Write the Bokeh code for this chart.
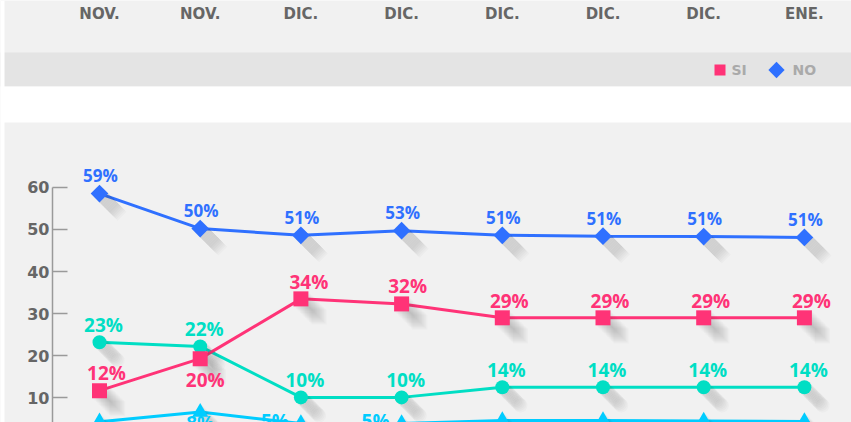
import math
from bokeh.plotting import figure
from bokeh.models import ColumnDataSource, Range1d, LinearAxis, FixedTicker, BoxAnnotation
from bokeh.transform import dodge
from bokeh.core.properties import value
from bokeh.embed import file_html
from bokeh.resources import INLINE

# ---------------- data ----------------
periods = ["AL 19 DE\nNOV.", "AL 26 DE\nNOV.", "AL 3DE\nDIC.", "AL 10 DE\nDIC.",
           "AL 17 DE\nDIC.", "AL 23 DE\nDIC.", "AL 30 DE\nDIC.", "AL 6 DE\nENE."]
si_values = [11.7, 19.3, 33.5, 32.3, 29.0, 29.0, 29.0, 29.0]
si_labels = ["12%", "20%", "34%", "32%", "29%", "29%", "29%", "29%"]
no_values = [58.5, 50.2, 48.6, 49.7, 48.6, 48.4, 48.3, 48.1]
no_labels = ["59%", "50%", "51%", "53%", "51%", "51%", "51%", "51%"]
ns_values = [23.2, 22.2, 10.1, 10.1, 12.5, 12.5, 12.5, 12.5]
ns_labels = ["23%", "22%", "10%", "10%", "14%", "14%", "14%", "14%"]
nr_values = [4.3, 6.6, 3.9, 3.9, 4.6, 4.6, 4.5, 4.4]
nr_labels = ["5%", "8%", "5%", "5%", "5%", "5%", "5%", "5%"]
y_ticks = [10, 20, 30, 40, 50, 60]
legend_names = ["SI", "NO"]

# ---------------- layout constants (pixels) ----------------
W, H = 851, 422
X_FIRST, X_STEP = 99.0, 100.7
Y_ZERO, Y_UNIT = 439.4, 4.21


def sx_to_x(sx):
    return (sx - X_FIRST) / X_STEP


def sy_to_y(sy):
    return (Y_ZERO - sy) / Y_UNIT


BLUE = "#2f70ff"
PINK = "#ff3377"
TEAL = "#00dec4"
CYAN = "#00ccff"
FONT = value("DejaVu Sans")
LFONT = value("Open Sans")

p = figure(width=W, height=H,
           x_range=Range1d(sx_to_x(0), sx_to_x(W)),
           y_range=Range1d(sy_to_y(H), sy_to_y(0)),
           output_backend="svg", toolbar_location=None,
           x_axis_location=None, y_axis_location=None,
           min_border=0, background_fill_color="#f1f1f1",
           border_fill_color="#ffffff", outline_line_color=None)
p.xgrid.visible = False
p.ygrid.visible = False

# header / legend bar / gap / left white strip
p.add_layout(BoxAnnotation(top=sy_to_y(52), bottom=sy_to_y(86), fill_color="#e4e4e4",
                           fill_alpha=1, line_alpha=0, level="underlay"))
p.add_layout(BoxAnnotation(top=sy_to_y(86), bottom=sy_to_y(122), fill_color="#ffffff",
                           fill_alpha=1, line_alpha=0, level="underlay"))
p.add_layout(BoxAnnotation(right=sx_to_x(4), fill_color="#ffffff",
                           fill_alpha=1, line_alpha=0, level="underlay"))

idx = list(range(len(periods)))

# header category labels
p.text(x=idx, y=[sy_to_y(23)] * len(idx), text=periods, text_font=FONT,
       text_font_style="bold", text_font_size="15px", text_color="#666666",
       text_align="center", text_baseline="bottom", text_line_height=1.15)

# y axis inside the panel
yaxis = LinearAxis(fixed_location=sx_to_x(52), ticker=FixedTicker(ticks=y_ticks), bounds=(0, 60))
yaxis.axis_line_color = "#9a9a9a"
yaxis.axis_line_width = 1.5
yaxis.major_tick_line_color = "#9a9a9a"
yaxis.major_tick_line_width = 1.5
yaxis.major_tick_in = 15
yaxis.major_tick_out = 0
yaxis.minor_tick_line_color = None
yaxis.major_label_standoff = 3
yaxis.major_label_text_font = "DejaVu Sans"
yaxis.major_label_text_font_style = "bold"
yaxis.major_label_text_font_size = "16px"
yaxis.major_label_text_color = "#666666"
p.add_layout(yaxis, "left")

SDX = 1.3 / X_STEP
SDY = -1.3 / Y_UNIT

series = [
    # values, labels, color, marker, size, angle, font size, x offsets, y offsets
    (nr_values, nr_labels, CYAN, "triangle", 16, 0.0, "19px",
     [0, 0, -26, -26, 0, 0, 0, 0], [11, 11, -2, -2, 14, 14, 14, 14]),
    (ns_values, ns_labels, TEAL, "circle", 14, 0.0, "19px",
     [4] * 8, [-17] * 8),
    (si_values, si_labels, PINK, "square", 15, 0.0, "19px",
     [7, 5, 8, 6, 7, 7, 7, 7], [-18, 21, -17, -18, -17, -17, -17, -17]),
    (no_values, no_labels, BLUE, "square", 12.5, math.pi / 4, "17px",
     [1] * 8, [-18] * 8),
]

sources = []
for vals, labs, col, mk, sz, ang, fs, xo, yo in series:
    src = ColumnDataSource(dict(x=idx, y=vals, label=labs, xo=xo, yo=yo))
    sources.append(src)
    p.line(x="x", y="y", source=src, line_color=col, line_width=3)

for src, (vals, labs, col, mk, sz, ang, fs, xo, yo) in zip(sources, series):
    for k in range(1, 15):
        p.scatter(x=dodge("x", k * SDX), y=dodge("y", k * SDY), source=src, marker=mk,
                  size=sz, angle=ang, fill_color="#444444", fill_alpha=0.028, line_color=None)

for src, (vals, labs, col, mk, sz, ang, fs, xo, yo) in zip(sources, series):
    p.scatter(x="x", y="y", source=src, marker=mk, size=sz, angle=ang,
              fill_color=col, line_color=None)
    p.text(x="x", y="y", text="label", source=src, x_offset="xo", y_offset="yo",
           text_font=LFONT, text_font_style="bold", text_font_size=fs, text_color=col,
           text_align="center", text_baseline="alphabetic")

# legend in the grey bar
p.scatter(x=[sx_to_x(719.5)], y=[sy_to_y(69.5)], marker="square", size=11,
          fill_color=PINK, line_color=None)
p.scatter(x=[sx_to_x(776)], y=[sy_to_y(69.5)], marker="square", size=11.5, angle=math.pi / 4,
          fill_color=BLUE, line_color=None)
p.text(x=[sx_to_x(731), sx_to_x(792)], y=[sy_to_y(69.5)] * 2, text=legend_names,
       text_font=FONT, text_font_style="bold", text_font_size="14px", text_color="#aaaaaa",
       text_align="left", text_baseline="middle")

open("out.html", "w").write(file_html(p, INLINE))
